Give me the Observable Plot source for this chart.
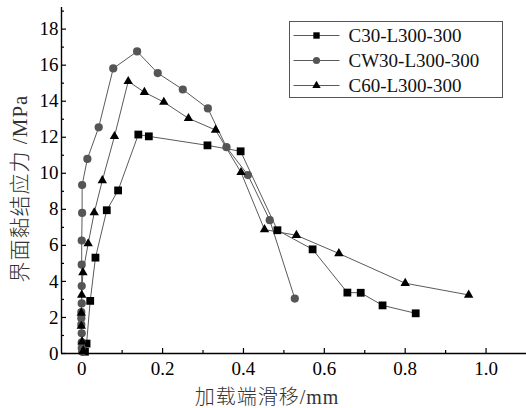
<!DOCTYPE html>
<html><head><meta charset="utf-8">
<script src="https://cdn.jsdelivr.net/npm/d3@7"></script>
<script src="https://cdn.jsdelivr.net/npm/@observablehq/plot@0.6"></script>
<style>
body{margin:0;background:#fff}
#chart{width:526px;height:408px}
</style>
</head><body><div id="chart"></div>
<script>
const seriesNames = ["C30-L300-300", "CW30-L300-300", "C60-L300-300"];
const seriesSymbols = ["square", "circle", "triangle"];
const seriesFills = ["#000", "#555", "#000"];

const c30Slip   = [0.008, 0.012, 0.021, 0.034, 0.062, 0.090, 0.140, 0.166, 0.311, 0.393, 0.484, 0.571, 0.657, 0.690, 0.744, 0.826];
const c30Stress = [0.10, 0.55, 2.92, 5.32, 7.95, 9.05, 12.15, 12.05, 11.55, 11.22, 6.84, 5.78, 3.38, 3.37, 2.67, 2.23];

const cw30Slip   = [0.001, 0.000, 0.000, 0.000, -0.001, -0.001, -0.001, 0.000, 0.000, 0.000, 0.000, 0.001, 0.001, 0.014, 0.042, 0.078, 0.137, 0.188, 0.250, 0.312, 0.358, 0.411, 0.465, 0.527];
const cw30Stress = [0.10, 0.30, 0.62, 1.12, 1.60, 1.95, 2.30, 2.78, 3.74, 4.93, 6.27, 7.80, 9.35, 10.80, 12.55, 15.82, 16.76, 15.56, 14.65, 13.60, 11.45, 9.90, 7.40, 3.05];

const c60Slip   = [0.004, 0.001, -0.001, -0.001, 0.000, 0.003, 0.016, 0.031, 0.051, 0.081, 0.115, 0.155, 0.203, 0.264, 0.331, 0.394, 0.452, 0.531, 0.636, 0.800, 0.957];
const c60Stress = [0.15, 0.65, 1.52, 2.25, 3.25, 4.50, 6.10, 7.82, 9.60, 12.05, 15.10, 14.50, 13.95, 13.05, 12.40, 10.05, 6.88, 6.56, 5.55, 3.90, 3.25];

const xMajorTicks = [0, 0.2, 0.4, 0.6, 0.8, 1.0];
const xTickLabels = ["0", "0.2", "0.4", "0.6", "0.8", "1.0"];
const xMinorTicks = [0.1, 0.3, 0.5, 0.7, 0.9];
const yMajorTicks = [0, 2, 4, 6, 8, 10, 12, 14, 16, 18];
const yMinorTicks = [1, 3, 5, 7, 9, 11, 13, 15, 17, 19];
const xDomain = [-0.05, 1.1];
const yDomain = [0, 19.2];
const xLabel = "加载端滑移/mm";
const yLabel = "界面黏结应力 /MPa";

const serifFont = "'Liberation Serif', 'Times New Roman', serif";
const cjkFont = "'Liberation Serif', 'Noto Sans CJK SC', serif";

const series = [
  {name: seriesNames[0], slip: c30Slip, stress: c30Stress},
  {name: seriesNames[1], slip: cw30Slip, stress: cw30Stress},
  {name: seriesNames[2], slip: c60Slip, stress: c60Stress}
];
const rows = series.flatMap((s, si) => s.slip.map((x, i) => ({series: s.name, si, x, y: s.stress[i]})));

const marks = [];
series.forEach((s, si) => {
  const d = rows.filter(r => r.si === si);
  marks.push(Plot.line(d, {x: "x", y: "y", stroke: "#5a5a5a", strokeWidth: 1}));
});
series.forEach((s, si) => {
  const d = rows.filter(r => r.si === si);
  const r = si === 0 ? 4.4 : si === 1 ? 4.1 : 3.5;
  marks.push(Plot.dot(d, {x: "x", y: "y", symbol: () => seriesSymbols[si], fill: seriesFills[si], stroke: "none", r}));
});

const chart = Plot.plot({
  width: 526,
  height: 408,
  marginLeft: 61,
  marginRight: 0,
  marginTop: 7,
  marginBottom: 55,
  style: {background: "#fff", color: "#000", fontFamily: serifFont},
  symbol: {type: "identity"},
  x: {domain: xDomain},
  y: {domain: yDomain},
  marks: [
    ...marks,
    Plot.axisX(xMajorTicks, {tickSize: -5, tickPadding: 13, fontSize: 19, fontFamily: serifFont, tickFormat: (d) => xTickLabels[xMajorTicks.indexOf(d)], label: null, stroke: "#000", strokeWidth: 1.2}),
    Plot.axisX(xMinorTicks, {tickSize: -3, text: null, label: null, stroke: "#000", strokeWidth: 1.2}),
    Plot.axisY(yMajorTicks, {tickSize: -5, tickPadding: 8, fontSize: 19, fontFamily: serifFont, label: null, stroke: "#000", strokeWidth: 1.2}),
    Plot.axisY(yMinorTicks, {tickSize: -3, text: null, label: null, stroke: "#000", strokeWidth: 1.2}),
    Plot.ruleY([yDomain[0]], {stroke: "#000", strokeWidth: 1.4}),
    Plot.ruleX([xDomain[0]], {stroke: "#000", strokeWidth: 1.4}),
    Plot.text([yLabel], {frameAnchor: "left", dx: -41, dy: 8, rotate: -90, textAnchor: "middle", lineAnchor: "middle", fontSize: 21, fontFamily: cjkFont, fill: "#333"}),
    Plot.text([xLabel], {frameAnchor: "bottom", dx: -27, dy: 44, textAnchor: "middle", lineAnchor: "middle", fontSize: 20, fontFamily: cjkFont, fill: "#333"})
  ]
});
document.getElementById("chart").appendChild(chart);
const svg = d3.select(chart);
svg.selectAll("text").each(function() {
  const isCjk = /[\u4e00-\u9fff]/.test(this.textContent);
  d3.select(this).style("font-family", isCjk ? cjkFont : serifFont).style("font-variant-numeric", "normal");
  if (isCjk) d3.select(this).style("letter-spacing", "1px").style("font-weight", "300");
});

// Legend inside the plot area (top right)
const lg = svg.append("g").attr("transform", "translate(289.5,21.5)").attr("text-anchor", "start");
lg.append("rect").attr("width", 213).attr("height", 76).attr("fill", "#fff").attr("stroke", "#555").attr("stroke-width", 1);
seriesNames.forEach((name, i) => {
  const y = 14 + i * 25;
  lg.append("line").attr("x1", 4).attr("x2", 50).attr("y1", y).attr("y2", y).attr("stroke", "#5a5a5a").attr("stroke-width", 1);
  const size = i === 2 ? Math.PI * 3.1 * 3.1 : Math.PI * 3.6 * 3.6;
  const sym = i === 0 ? d3.symbolSquare : i === 1 ? d3.symbolCircle : d3.symbolTriangle;
  lg.append("path").attr("d", d3.symbol(sym, size)()).attr("transform", `translate(27,${y})`).attr("fill", seriesFills[i]);
  lg.append("text").attr("x", 59).attr("y", y).attr("dy", "0.35em").attr("font-size", 19).style("font-family", serifFont).attr("fill", "#111").text(name);
});
</script>
</body></html>
